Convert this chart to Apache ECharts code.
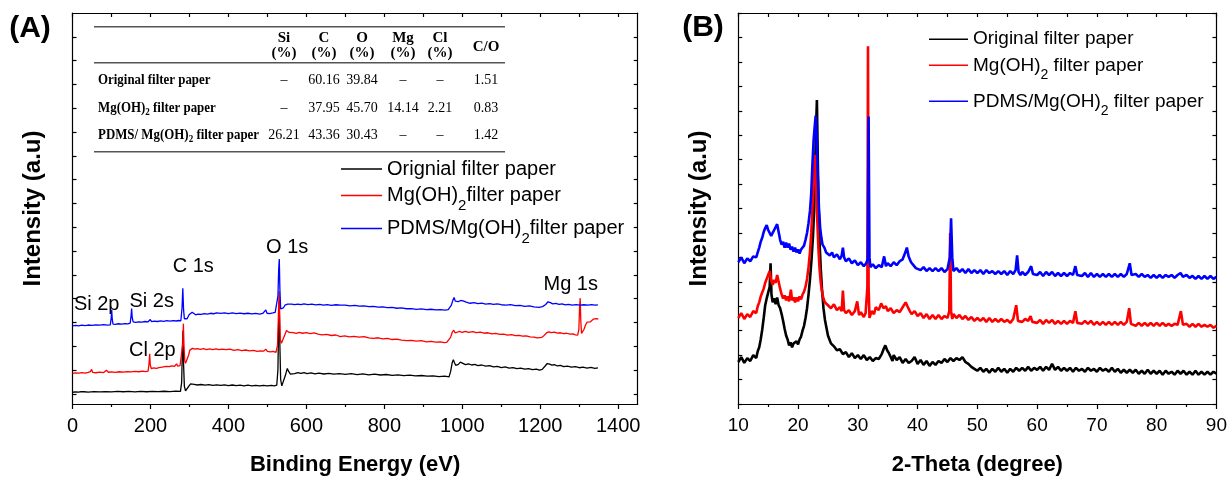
<!DOCTYPE html>
<html><head><meta charset="utf-8">
<script src="https://cdn.jsdelivr.net/npm/echarts@6/dist/echarts.min.js"></script>
<style>html,body{margin:0;padding:0;background:#fff}#c{width:1230px;height:481px}</style>
</head><body><div id="c"></div>
<script>
const SANS = '"Liberation Sans", Arial, Helvetica, sans-serif';
const SERIF = '"Liberation Serif", "Times New Roman", serif';

// ---------- Panel A : XPS survey ----------
const xpsTickLabels = [0, 200, 400, 600, 800, 1000, 1200, 1400];
const xpsMinorTicks = [100, 300, 500, 700, 900, 1100, 1300];
const xpsTopTicks = [0, 100, 200, 300, 400, 500, 600, 700, 800, 900, 1000, 1100, 1200, 1300, 1400];
const xpsYTicks = [10.3, 34.6, 58.9, 83.2, 107.5, 131.8, 156.0, 180.3, 204.6, 228.9, 253.2, 277.5, 301.8, 326.1, 350.4, 374.7];
const xpsNames = ['Orignial filter paper', 'Mg(OH)2filter paper', 'PDMS/Mg(OH)2filter paper'];
const xpsPeakNames = ['Si 2p', 'Si 2s', 'C 1s', 'O 1s', 'Cl 2p', 'Mg 1s'];

const xpsOriginal = [[0,12.0],[8,12.4],[16,12.1],[22,12.6],[26,14.3],[30,12.5],[40,12.2],[55,12.6],[70,12.3],[85,12.7],[100,12.4],[115,12.8],[130,12.5],[145,12.9],[160,12.4],[175,12.8],[190,12.5],[205,12.9],[220,12.6],[235,13.0],[250,12.7],[265,13.1],[277,12.9],[280,22],[282,58],[283.5,75],[285,40],[287,18],[290,13.5],[294,15],[298,18],[303,20.5],[307,21.2],[312,20.0],[320,19.4],[330,19.9],[340,19.3],[350,19.8],[360,19.0],[370,19.6],[380,18.9],[390,19.5],[400,18.8],[410,19.4],[420,18.7],[430,19.3],[440,18.6],[450,19.2],[460,18.6],[470,19.1],[480,18.4],[490,19.0],[500,18.5],[510,19.0],[518,18.6],[524,19.2],[527,35],[529,85],[530.5,105],[532,60],[534,25],[537,18.5],[541,20],[546,29],[551,36.3],[555,33],[559,30.5],[564,31.8],[570,31.0],[578,32.0],[586,31.2],[594,31.9],[602,30.9],[612,31.7],[622,30.8],[632,31.5],[645,30.6],[658,31.3],[670,30.4],[685,31.0],[700,30.2],[715,30.9],[730,30.0],[745,30.7],[760,29.8],[775,30.4],[790,29.6],[805,30.1],[820,29.2],[835,29.8],[850,28.9],[865,29.4],[880,28.6],[895,29.1],[910,28.4],[925,28.8],[940,28.0],[955,28.4],[966,27.7],[970,33],[974,42],[977,45.3],[980,42],[983,39.5],[986,38.7],[990,40.5],[995,42.7],[1000,41.5],[1008,40.2],[1016,41.0],[1024,39.8],[1032,40.4],[1040,39.2],[1050,39.8],[1060,38.6],[1070,39.1],[1080,37.9],[1090,38.5],[1100,37.2],[1110,37.8],[1120,36.7],[1130,37.2],[1140,36.0],[1150,36.6],[1160,35.5],[1170,36.1],[1180,35.1],[1190,35.6],[1198,34.6],[1205,35.4],[1212,38.5],[1218,41.3],[1224,40.6],[1230,39.6],[1236,40.1],[1244,38.8],[1252,39.4],[1260,38.2],[1270,38.7],[1280,37.6],[1290,38.1],[1300,37.0],[1310,37.6],[1320,36.7],[1330,37.3],[1340,36.4],[1348,36.9]];

const xpsMgOH = [[0,31.3],[8,31.8],[16,31.4],[24,32.0],[32,31.6],[40,32.2],[46,33],[49,35.3],[52,32.2],[60,31.9],[70,32.5],[80,32.1],[87,34.5],[92,32.4],[100,32.8],[110,32.3],[120,32.9],[130,32.5],[140,33.1],[150,32.7],[160,33.3],[170,32.9],[180,33.5],[188,33.1],[194,33.6],[196.5,42],[198,51.3],[199.5,40],[202,36.2],[208,36.8],[215,36.3],[222,37.2],[230,37.6],[240,38.5],[248,38.1],[255,38.9],[262,38.5],[267,41],[270,38.6],[276,39.2],[281,40],[283,62],[284.5,82],[286,60],[288,44],[290,41.5],[294,43],[298,50],[301,55],[304,55.3],[308,56.8],[314,55.9],[320,56.6],[328,55.7],[336,56.4],[344,55.6],[352,56.3],[360,55.5],[368,56.2],[376,55.4],[384,56.1],[394,55.5],[404,55.9],[414,54.8],[424,55.4],[434,54.5],[444,55.1],[454,54.2],[464,54.8],[474,53.8],[482,54.3],[490,53.9],[496,56.0],[500,53.6],[508,53.2],[515,53.6],[522,52.7],[526,60],[528.5,95],[530,115],[531.5,90],[533,66],[536,62],[540,64],[545,71],[549,75],[552,77],[556,73],[560,71.8],[566,72.8],[574,72.0],[582,73.0],[590,72.2],[600,72.9],[610,71.9],[620,72.5],[630,71.4],[640,70.5],[652,71.0],[664,69.9],[676,70.4],[687,68.8],[698,69.5],[710,68.5],[722,69.1],[735,68.3],[748,68.8],[760,67.4],[772,67.0],[784,67.6],[796,66.4],[808,66.9],[820,65.8],[832,66.2],[844,65.1],[857,64.7],[870,65.0],[882,64.2],[895,64.6],[908,63.5],[920,64.0],[932,63.1],[944,63.5],[954,62.6],[960,62.8],[965,63.3],[970,68],[974,73],[978,75.3],[982,72.5],[986,72.9],[992,74.0],[1000,73.0],[1008,74.2],[1016,73.2],[1027,73.9],[1036,72.8],[1046,73.3],[1056,72.2],[1066,72.7],[1076,71.6],[1086,72.0],[1096,71.0],[1106,71.4],[1116,70.3],[1126,70.8],[1136,69.8],[1146,70.1],[1154,69.3],[1164,69.6],[1174,68.5],[1184,68.2],[1192,67.4],[1197,67.0],[1204,68.0],[1210,70],[1216,72.5],[1222,73.7],[1228,72.8],[1236,73.3],[1244,72.3],[1252,72.7],[1260,71.8],[1268,72.2],[1276,71.2],[1284,71.5],[1290,70.5],[1296,70.3],[1299,76],[1301,100],[1302.5,108],[1304,85],[1306,72],[1309,71.5],[1312,76],[1316,80.3],[1320,83.5],[1324,85.5],[1328,83.8],[1332,85.2],[1336,86.5],[1340,85.6],[1344,87.2],[1349,86.6]];

const xpsPDMS = [[0,79.7],[8,80.2],[16,79.8],[24,80.4],[32,80.0],[40,80.6],[50,80.2],[60,80.8],[70,80.4],[80,80.9],[90,80.5],[97,80.8],[99.3,88],[100.6,96],[102,86],[104,81.6],[110,81.3],[118,81.9],[126,81.5],[134,82.1],[142,81.8],[148,82.5],[150.3,90],[151.7,97.3],[153,89],[155.5,83.8],[162,83.3],[170,83.9],[178,83.6],[186,84.2],[194,83.9],[199.5,86.2],[203,84.1],[210,84.6],[218,84.2],[226,84.8],[234,84.4],[242,85.0],[250,84.6],[258,85.1],[266,84.7],[272,85.2],[278,84.9],[281,98],[283,118],[285,96],[287,87],[290,85.3],[294,87],[299,91],[303,93],[307,93.7],[311,92],[316,91],[322,91.8],[330,91.4],[338,92.2],[346,91.8],[354,92.6],[362,92.1],[370,92.9],[380,92.4],[390,93.0],[400,92.3],[410,92.9],[420,92.2],[430,92.8],[440,92.1],[450,92.6],[460,91.9],[470,92.5],[480,91.8],[488,92.4],[493,93.0],[496,96.0],[499,92.6],[506,92.3],[514,92.9],[520,93.5],[525,94],[527,110],[529,138],[530.5,148],[532,118],[534,97],[537,96],[541,98],[545,100.8],[549,101.6],[552,102],[556,101.2],[562,101.9],[570,101.3],[578,102.0],[586,101.4],[594,102.1],[604,101.3],[614,101.9],[624,101.1],[634,101.7],[644,100.9],[654,101.5],[664,100.7],[676,101.3],[687,100.9],[700,101.0],[712,100.2],[724,100.6],[736,99.8],[748,100.2],[760,99.3],[772,99.6],[784,98.8],[796,99.1],[808,98.3],[820,98.6],[832,97.7],[844,98.0],[857,97.2],[870,97.4],[882,96.6],[895,97.0],[908,96.3],[920,96.7],[932,96.0],[944,96.4],[956,95.8],[964,96.2],[968,96.0],[972,101],[976,106],[979,108.7],[982,105],[985,103.2],[990,104.5],[996,105.6],[1002,105.3],[1010,104.0],[1020,102.8],[1030,103.4],[1040,102.4],[1050,102.9],[1060,102.0],[1070,102.5],[1080,101.6],[1090,102.1],[1100,101.3],[1112,101.0],[1124,101.4],[1136,100.4],[1148,100.7],[1160,99.7],[1172,100.1],[1184,99.1],[1197,98.7],[1206,99.4],[1214,101.5],[1220,104.3],[1226,103.4],[1232,102.2],[1240,102.6],[1248,101.6],[1256,102.1],[1264,101.2],[1272,101.7],[1282,100.9],[1292,101.4],[1302,100.8],[1312,101.3],[1322,100.8],[1332,101.4],[1340,100.9],[1348,101.2]];

// ---------- Inset table (panel A) ----------
const tableHeaders = [['Si', '(%)'], ['C', '(%)'], ['O', '(%)'], ['Mg', '(%)'], ['Cl', '(%)'], ['C/O', '']];
const tableRowNames = ['Original filter paper', 'Mg(OH)2 filter paper', 'PDMS/ Mg(OH)2 filter paper'];
const tableValues = [
  ['\u2013', '60.16', '39.84', '\u2013', '\u2013', '1.51'],
  ['\u2013', '37.95', '45.70', '14.14', '2.21', '0.83'],
  ['26.21', '43.36', '30.43', '\u2013', '\u2013', '1.42']
];

// ---------- Panel B : XRD ----------
const xrdNames = ['Original filter paper', 'Mg(OH)2 filter paper', 'PDMS/Mg(OH)2 filter paper'];
const xrdOriginal = [[10,43],[10.5,48],[11,42],[11.5,47],[12,44],[12.5,50],[13,47],[13.25,54],[13.5,58],[13.75,66],[14,76],[14.25,88],[14.5,101],[14.75,108],[15,114],[15.25,120],[15.4,144],[15.55,112],[15.75,104],[16,108],[16.25,102],[16.5,109],[16.75,101],[17,98],[17.25,92],[17.5,85],[17.75,77],[18,70],[18.25,66],[18.5,60],[18.75,63],[19,58],[19.25,62],[19.5,60],[19.75,64],[20,61],[20.25,66],[20.5,69],[20.75,75],[21,80],[21.25,88],[21.5,98],[21.75,112],[22,128],[22.25,148],[22.5,172],[22.7,200],[22.85,240],[23,280],[23.15,311],[23.3,250],[23.45,200],[23.6,165],[23.8,138],[24,118],[24.25,98],[24.5,86],[24.75,78],[25,70],[25.25,66],[25.5,62],[26,59],[26.5,55],[27,56],[27.5,51],[28,53],[28.5,48],[29,52],[29.5,47],[30,50],[30.5,46],[31,50],[31.5,45],[32,48],[32.5,44],[33,47],[33.5,46],[34,51],[34.3,56],[34.6,60],[34.9,55],[35.2,52],[35.5,48],[35.8,44],[36,50],[36.5,45],[37,48],[37.5,42],[38,46],[38.5,42],[39,44],[39.5,48],[40,41],[40.5,45],[41,40],[41.5,44],[42,39],[42.5,43],[43,40],[43.5,44],[44,42],[44.5,46],[45,43],[45.5,47],[46,44],[46.5,47],[47,45],[47.5,48],[48,43],[48.5,41],[49,38],[49.5,36],[50,34],[50.5,37],[51,33],[51.5,36],[52,32],[52.5,36],[53,33],[53.5,37],[54,33],[54.5,36],[55,32],[55.5,36],[56,33],[56.5,37],[57,34],[57.5,37],[58,34],[58.5,38],[59,34],[59.5,37],[60,35],[60.5,38],[61,34],[61.5,38],[62,35],[62.5,41],[63,35],[63.5,38],[64,34],[64.5,37],[65,34],[65.5,37],[66,33],[66.5,37],[67,34],[67.5,36],[68,33],[68.5,37],[69,34],[69.5,36],[70,33],[70.5,37],[71,34],[71.5,36],[72,33],[72.5,37],[73,33],[73.5,36],[74,32],[74.5,35],[75,32],[75.5,35],[76,32],[76.5,35],[77,31],[77.5,34],[78,31],[78.5,35],[79,31],[79.5,34],[80,31],[80.5,34],[81,30],[81.5,34],[82,31],[82.5,33],[83,30],[83.5,34],[84,31],[84.5,34],[85,30],[85.5,33],[86,30],[86.5,34],[87,30],[87.5,33],[88,30],[88.5,33],[89,30],[89.5,33],[90,31]];

const xrdMgOH = [[10,88],[10.5,93],[11,87],[11.5,92],[12,89],[12.5,95],[13,93],[13.25,100],[13.5,104],[13.75,110],[14,114],[14.25,118],[14.5,124],[14.75,128],[15,130],[15.25,136],[15.5,126],[15.75,122],[16,127],[16.25,124],[16.5,132],[16.75,125],[17,118],[17.25,112],[17.5,108],[17.75,111],[18,106],[18.25,110],[18.5,105],[18.8,117],[19,106],[19.25,109],[19.5,104],[19.75,109],[20,105],[20.25,110],[20.5,107],[20.75,112],[21,115],[21.25,120],[21.5,128],[21.75,140],[22,156],[22.2,175],[22.4,200],[22.6,230],[22.8,255],[23,222],[23.2,190],[23.4,160],[23.6,138],[23.8,124],[24,115],[24.25,108],[24.5,104],[25,101],[25.5,98],[26,102],[26.5,96],[27,99],[27.3,95],[27.5,116],[27.7,96],[28,93],[28.5,96],[29,91],[29.5,95],[29.9,105],[30.2,91],[30.5,94],[31,89],[31.3,93],[31.6,120],[31.7,366],[31.8,120],[31.95,88],[32.3,95],[32.7,92],[33,99],[33.5,96],[33.9,103],[34.3,98],[34.7,100],[35,95],[35.5,98],[36,93],[36.5,96],[37,94],[37.5,99],[38,104],[38.3,100],[38.7,95],[39,92],[39.5,95],[40,90],[40.5,93],[41,88],[41.5,92],[42,87],[42.5,91],[43,87],[43.5,91],[44,87],[44.5,90],[45,88],[45.3,95],[45.45,175],[45.6,95],[45.8,87],[46,92],[46.5,88],[47,91],[47.5,87],[48,90],[48.5,86],[49,89],[49.5,85],[50,88],[50.5,85],[51,88],[51.5,84],[52,88],[52.5,84],[53,87],[53.5,84],[54,87],[54.5,84],[55,86],[55.5,83],[56,87],[56.5,101],[56.8,85],[57,87],[57.5,84],[58,87],[58.5,85],[58.9,90],[59.2,84],[59.5,86],[60,83],[60.5,86],[61,82],[61.5,86],[62,83],[62.5,86],[63,82],[63.5,85],[64,82],[64.5,85],[65,82],[65.5,85],[66,83],[66.4,95],[66.7,83],[67,85],[67.5,82],[68,85],[68.5,82],[69,85],[69.5,81],[70,84],[70.5,81],[71,84],[71.5,81],[72,84],[72.5,81],[73,84],[73.5,81],[74,84],[74.5,81],[75,84],[75.4,98],[75.7,82],[76,83],[76.5,80],[77,83],[77.5,80],[78,83],[78.5,80],[79,83],[79.5,80],[80,83],[80.5,80],[81,83],[81.5,80],[82,82],[82.5,80],[83,82],[83.5,81],[84.05,95],[84.4,81],[85,82],[85.5,79],[86,82],[86.5,79],[87,82],[87.5,79],[88,81],[88.5,79],[89,81],[89.5,78],[90,80]];

const xrdPDMS = [[10,145],[10.5,150],[11,144],[11.5,149],[12,146],[12.5,151],[13,150],[13.25,155],[13.5,160],[13.75,166],[14,170],[14.25,176],[14.5,180],[14.75,183],[15,178],[15.25,176],[15.5,172],[15.75,175],[16,178],[16.25,181],[16.5,184],[16.75,176],[17,168],[17.25,163],[17.5,166],[17.75,160],[18,165],[18.25,160],[18.5,164],[18.75,158],[19,161],[19.25,156],[19.5,160],[19.75,155],[20,158],[20.25,154],[20.5,158],[20.75,156],[21,162],[21.25,168],[21.5,175],[21.75,185],[22,198],[22.2,215],[22.4,245],[22.6,270],[22.8,285],[22.95,295],[23.1,275],[23.3,232],[23.5,200],[23.7,180],[23.9,170],[24.1,163],[24.4,160],[24.7,155],[25,157],[25.3,152],[25.7,155],[26,150],[26.5,153],[27,148],[27.3,152],[27.5,160],[27.7,150],[28,146],[28.5,149],[29,144],[29.5,147],[30,142],[30.5,145],[31,141],[31.4,144],[31.65,148],[31.8,294],[31.95,150],[32.1,140],[32.5,143],[33,139],[33.5,142],[34,140],[34.4,151],[34.7,141],[35,144],[35.5,141],[36,145],[36.5,142],[37,146],[37.5,148],[38,156],[38.2,160],[38.5,151],[38.9,145],[39.3,142],[39.7,139],[40,141],[40.5,137],[41,140],[41.5,136],[42,139],[42.5,136],[43,139],[43.5,136],[44,139],[44.5,135],[45,138],[45.4,150],[45.6,190],[45.8,150],[46,136],[46.5,139],[47,135],[47.5,138],[48,134],[48.5,138],[49,134],[49.5,137],[50,134],[50.5,137],[51,133],[51.5,137],[52,134],[52.5,136],[53,133],[53.5,136],[54,133],[54.5,136],[55,132],[55.5,136],[56,133],[56.4,137],[56.65,152],[56.9,135],[57.2,132],[57.5,135],[58,132],[58.5,135],[59,141],[59.3,133],[59.6,135],[60,132],[60.5,135],[61,131],[61.5,135],[62,132],[62.5,135],[63,131],[63.5,134],[64,131],[64.5,134],[65,131],[65.5,134],[66,132],[66.4,141],[66.7,132],[67,134],[67.5,131],[68,134],[68.5,130],[69,134],[69.5,130],[70,133],[70.5,130],[71,133],[71.5,130],[72,133],[72.5,130],[73,133],[73.5,130],[74,133],[74.5,130],[75,133],[75.5,144],[75.8,132],[76,131],[76.5,133],[77,130],[77.5,133],[78,130],[78.5,132],[79,129],[79.5,132],[80,129],[80.5,132],[81,129],[81.5,132],[82,130],[82.5,132],[83,129],[83.5,132],[84,134],[84.4,130],[85,132],[85.5,129],[86,131],[86.5,128],[87,131],[87.5,128],[88,131],[88.5,128],[89,131],[89.5,128],[90,130]];

const COLORS = ['#000000', '#ff0000', '#0000ff'];

// ---------- helpers ----------
function richName(name) {
  return '{n|' + name.replace('(OH)2', '(OH)}{s|2}{n|') + '}';
}
const axisLineStyle = { color: '#000', width: 1.2 };
function boxAxis(extra) {
  return Object.assign({
    type: 'value',
    axisLine: { show: true, onZero: false, lineStyle: axisLineStyle },
    axisTick: { show: true, inside: true, length: 4, lineStyle: axisLineStyle },
    axisLabel: { show: false },
    splitLine: { show: false }
  }, extra);
}

const legendRich = (fs, sub, pad) => ({
  n: { fontSize: fs, lineHeight: fs + 4, fontFamily: SANS, color: '#000' },
  s: { fontSize: sub, lineHeight: fs - 2, padding: [pad, 0, 0, 0], fontFamily: SANS, color: '#000' }
});
function linePath(w) {
  return 'path://M0,0L0,0M0,6.3L' + w + ',6.3L' + w + ',7.7L0,7.7ZM' + w + ',14L' + w + ',14';
}
function makeLegend(name, left, top, iw, fs, sub, pad) {
  return {
    data: [name], left: left, top: top, orient: 'horizontal', padding: 0, itemGap: 0,
    itemWidth: iw, itemHeight: 14, selectedMode: false, icon: linePath(iw),
    symbolKeepAspect: false,
    formatter: n => richName(n),
    textStyle: { fontSize: fs, fontFamily: SANS, color: '#000', rich: legendRich(fs, sub, pad) }
  };
}

// ---------- graphic (labels + table) ----------
const graphic = [];
function gText(text, x, y, opts, extra) {
  graphic.push(Object.assign({
    type: 'text', x: x, y: y, silent: true,
    style: Object.assign({ text: text, fill: '#000', fontFamily: SANS, fontSize: 20,
      align: 'center', verticalAlign: 'middle' }, opts || {})
  }, extra || {}));
}
gText('(A)', 30, 29, { fontSize: 30, fontWeight: 'bold' });
gText('(B)', 703, 28, { fontSize: 30, fontWeight: 'bold' });
const peakPos = [[96.7, 304], [151.7, 301], [193.3, 266.5], [287.2, 247], [152.4, 350], [570.7, 284]];
xpsPeakNames.forEach((t, i) => gText(t, peakPos[i][0], peakPos[i][1], { fontSize: 20 }));

// table
const tblLeft = 94, tblRight = 505;
[26.7, 62.7, 151.7].forEach(y => graphic.push({
  type: 'line', silent: true, shape: { x1: tblLeft, y1: y, x2: tblRight, y2: y },
  style: { stroke: '#555', lineWidth: 1.6 }
}));
const colX = [284, 324, 362, 403, 440, 486];
const rowY = [80, 108, 135];
const hdrStyle = { fontFamily: SERIF, fontWeight: 'bold', fontSize: 15 };
tableHeaders.forEach((h, i) => {
  if (h[1]) {
    gText(h[0], colX[i], 38.5, hdrStyle);
    gText(h[1], colX[i], 53.5, hdrStyle);
  } else {
    gText(h[0], colX[i], 47, hdrStyle);
  }
});
const tblRich = {
  b: { fontFamily: SERIF, fontWeight: 'bold', fontSize: 15, lineHeight: 17, fill: '#000' },
  s: { fontFamily: SERIF, fontWeight: 'bold', fontSize: 10.5, lineHeight: 12, padding: [8, 0, 0, 0], fill: '#000' }
};
tableRowNames.forEach((nm, r) => {
  graphic.push({
    type: 'text', x: 98, y: rowY[r], silent: true, scaleX: 0.86,
    style: { text: '{b|' + nm.replace('(OH)2', '(OH)}{s|2}{b|') + '}', rich: tblRich,
      align: 'left', verticalAlign: 'middle', fill: '#000' }
  });
  tableValues[r].forEach((v, c) => gText(v, colX[c], rowY[r], { fontFamily: SERIF, fontSize: 14 }));
});

// ---------- option ----------
const lineSeries = (name, data, color, xi, yi, w) => ({
  name: name, type: 'line', data: data, xAxisIndex: xi, yAxisIndex: yi,
  showSymbol: false, symbol: 'none', color: color, silent: true, animation: false,
  lineStyle: { color: color, width: w }, clip: true
});
const titleStyle = { fontSize: 22, fontWeight: 'bold', fontFamily: SANS, color: '#000' };
const yTitleStyle = { fontSize: 24, fontWeight: 'bold', fontFamily: SANS, color: '#000' };

const option = {
  backgroundColor: '#fff',
  animation: false,
  grid: [
    { left: 72.5, right: 592.3, top: 13, bottom: 69, containLabel: false },
    { left: 738.3, right: 11.7, top: 13, bottom: 67.7, containLabel: false }
  ],
  xAxis: [
    boxAxis({ gridIndex: 0, min: 0, max: 1450, position: 'bottom',
      axisTick: { show: true, inside: false, length: 5, customValues: xpsTickLabels, lineStyle: axisLineStyle },
      axisLabel: { show: true, customValues: xpsTickLabels, formatter: v => String(v),
        fontSize: 20, margin: 12, color: '#000', fontFamily: SANS },
      name: 'Binding Energy (eV)', nameLocation: 'middle', nameGap: 50, nameTextStyle: titleStyle }),
    boxAxis({ gridIndex: 0, min: 0, max: 1450, position: 'bottom',
      axisLine: { show: false, onZero: false },
      axisTick: { show: true, inside: false, length: 3, customValues: xpsMinorTicks, lineStyle: axisLineStyle } }),
    boxAxis({ gridIndex: 0, min: 0, max: 1450, position: 'top',
      axisTick: { show: true, inside: true, length: 4, customValues: xpsTopTicks, lineStyle: axisLineStyle } }),
    boxAxis({ gridIndex: 1, min: 10, max: 90, interval: 10, position: 'bottom',
      axisTick: { show: true, inside: false, length: 5, lineStyle: axisLineStyle },
      minorTick: { show: true, splitNumber: 2, length: 3, lineStyle: axisLineStyle },
      axisLabel: { show: true, formatter: v => String(v), fontSize: 19, margin: 12, color: '#000', fontFamily: SANS },
      name: '2-Theta (degree)', nameLocation: 'middle', nameGap: 50, nameTextStyle: titleStyle }),
    boxAxis({ gridIndex: 1, min: 10, max: 90, interval: 5, position: 'top' })
  ],
  yAxis: [
    boxAxis({ gridIndex: 0, min: 0, max: 399, position: 'left',
      axisTick: { show: true, inside: true, length: 4, customValues: xpsYTicks, lineStyle: axisLineStyle },
      name: 'Intensity (a.u)', nameLocation: 'middle', nameGap: 27, nameRotate: 90, nameTextStyle: yTitleStyle }),
    boxAxis({ gridIndex: 0, min: 0, max: 399, position: 'right',
      axisTick: { show: true, inside: true, length: 4, customValues: xpsYTicks, lineStyle: axisLineStyle } }),
    boxAxis({ gridIndex: 1, min: 0, max: 400, interval: 25, position: 'left',
      name: 'Intensity (a.u)', nameLocation: 'middle', nameGap: 27, nameRotate: 90, nameTextStyle: yTitleStyle }),
    boxAxis({ gridIndex: 1, min: 0, max: 400, interval: 25, position: 'right' })
  ],
  legend: [
    makeLegend(xpsNames[0], 341, 159, 41, 20, 15, 20),
    makeLegend(xpsNames[1], 341, 178, 41, 20, 15, 20),
    makeLegend(xpsNames[2], 341, 211, 41, 20, 15, 20),
    makeLegend(xrdNames[0], 929, 29.7, 39, 19, 14, 19),
    makeLegend(xrdNames[1], 929, 48.8, 39, 19, 14, 19),
    makeLegend(xrdNames[2], 929, 84.8, 39, 19, 14, 19)
  ],
  series: [
    lineSeries(xpsNames[0], xpsOriginal, COLORS[0], 0, 0, 1.3),
    lineSeries(xpsNames[1], xpsMgOH, COLORS[1], 0, 0, 1.3),
    lineSeries(xpsNames[2], xpsPDMS, COLORS[2], 0, 0, 1.3),
    lineSeries(xrdNames[0], xrdOriginal, COLORS[0], 3, 2, 2.6),
    lineSeries(xrdNames[1], xrdMgOH, COLORS[1], 3, 2, 2.6),
    lineSeries(xrdNames[2], xrdPDMS, COLORS[2], 3, 2, 2.6)
  ],
  graphic: graphic
};

const chart = echarts.init(document.getElementById('c'), null, { renderer: 'canvas' });
chart.setOption(option);
</script>
</body></html>
